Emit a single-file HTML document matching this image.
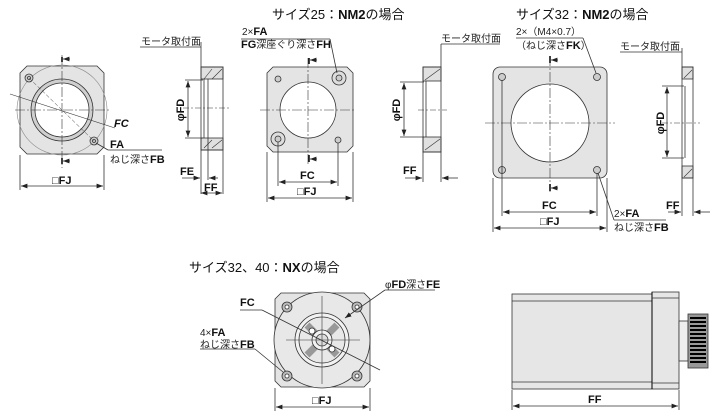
<!DOCTYPE html>
<html><head><meta charset="utf-8"><style>
html,body{margin:0;padding:0;background:#fff;}
svg{display:block;font-family:"Liberation Sans","Noto Sans CJK JP",sans-serif;}
.t{font-size:10px;fill:#222;}
.b{font-weight:bold;font-size:11px;fill:#111;}
.h{font-size:13px;fill:#111;}
</style></head><body>
<svg width="719" height="418" viewBox="0 0 719 418" xmlns="http://www.w3.org/2000/svg">
<defs>
<marker id="a" viewBox="0 0 8 6" refX="8" refY="3" markerWidth="8" markerHeight="6" orient="auto-start-reverse"><path d="M0,0L8,3L0,6z" fill="#222"/></marker>
</defs>
<g stroke="#333" stroke-width="0.8" fill="none">

<path d="M27,66 H97 L104,73 V147 L97,154 H27 L20,147 V73 Z" fill="#e4e4e4"/>
<circle cx="62" cy="110" r="45" stroke="#888" stroke-width="0.6"/>
<circle cx="62" cy="110" r="31" fill="#cfcfcf"/>
<circle cx="62" cy="110" r="27" fill="#fff"/>
<circle cx="29" cy="78" r="4" fill="#ccc"/><circle cx="29" cy="78" r="1.5"/>
<circle cx="94" cy="141" r="4" fill="#ccc"/><circle cx="94" cy="141" r="1.5"/>
<line x1="62" y1="55" x2="62" y2="168" stroke-dasharray="10,2,2,2" stroke-width="0.6"/>
<line x1="15" y1="110" x2="110" y2="110" stroke-dasharray="10,2,2,2" stroke-width="0.6"/>
<line x1="10" y1="94" x2="115" y2="128" stroke-width="0.6"/>
<line x1="29" y1="78" x2="94" y2="141" stroke-width="0.5" stroke-dasharray="4,2"/>
<line x1="62" y1="57" x2="62" y2="62" stroke="#000" stroke-width="1.5"/>
<line x1="70" y1="59" x2="63" y2="59" marker-end="url(#a)"/>
<line x1="62" y1="158" x2="62" y2="164" stroke="#000" stroke-width="1.5"/>
<line x1="70" y1="161" x2="63" y2="161" marker-end="url(#a)"/>
<line x1="96" y1="143" x2="108" y2="150"/><line x1="108" y1="150" x2="162" y2="150"/>
<line x1="20" y1="155" x2="20" y2="190"/><line x1="104" y1="155" x2="104" y2="190"/>
<line x1="21" y1="186" x2="103" y2="186" marker-start="url(#a)" marker-end="url(#a)"/>

<rect x="201" y="67" width="22" height="12" fill="#e0e0e0"/>
<rect x="201" y="138" width="22" height="12" fill="#e0e0e0"/>
<path d="M204,79 L212,69 M212,79 L222,69 M204,148 L212,140 M212,148 L222,140" stroke-width="0.6"/>
<rect x="201" y="67" width="22" height="83"/>
<line x1="208" y1="79" x2="208" y2="150"/><line x1="204" y1="79" x2="204" y2="138"/>
<line x1="183" y1="108" x2="230" y2="108" stroke-dasharray="6,2,2,2" stroke-width="0.5"/>
<line x1="185" y1="80" x2="203" y2="80"/><line x1="185" y1="138" x2="203" y2="138"/>
<line x1="188" y1="81" x2="188" y2="137" marker-start="url(#a)" marker-end="url(#a)"/>
<line x1="140" y1="47" x2="201" y2="47"/><line x1="201" y1="42" x2="201" y2="67"/>
<line x1="201" y1="150" x2="201" y2="194"/><line x1="208" y1="150" x2="208" y2="180"/><line x1="223" y1="150" x2="223" y2="194"/>
<line x1="182" y1="178" x2="200" y2="178" marker-end="url(#a)"/><line x1="218" y1="178" x2="209" y2="178" marker-end="url(#a)"/>
<line x1="201" y1="193" x2="222" y2="193" marker-start="url(#a)" marker-end="url(#a)"/>

<path d="M273,67 H347 L353,73 V146 L347,152 H273 L267,146 V73 Z" fill="#e4e4e4"/>
<circle cx="308" cy="110" r="28" fill="#fff"/>
<circle cx="278" cy="79" r="3" fill="#ccc"/><circle cx="338" cy="140" r="3" fill="#ccc"/>
<circle cx="339" cy="78" r="7" fill="#ddd"/><circle cx="339" cy="78" r="3" fill="#ccc"/>
<circle cx="278" cy="139" r="7" fill="#ddd"/><circle cx="278" cy="139" r="3" fill="#ccc"/>
<line x1="308" y1="58" x2="308" y2="165" stroke-dasharray="10,2,2,2" stroke-width="0.6"/>
<line x1="260" y1="110" x2="356" y2="110" stroke-dasharray="10,2,2,2" stroke-width="0.6"/>
<line x1="309" y1="58" x2="309" y2="64" stroke="#000" stroke-width="1.5"/>
<line x1="317" y1="60" x2="310" y2="60" marker-end="url(#a)"/>
<line x1="309" y1="155" x2="309" y2="162" stroke="#000" stroke-width="1.5"/>
<line x1="317" y1="159" x2="310" y2="159" marker-end="url(#a)"/>
<line x1="241" y1="39" x2="330" y2="39"/><line x1="330" y1="39" x2="337" y2="73"/>
<line x1="278" y1="142" x2="278" y2="186"/><line x1="338" y1="143" x2="338" y2="186"/>
<line x1="267" y1="152" x2="267" y2="202"/><line x1="353" y1="152" x2="353" y2="202"/>
<line x1="279" y1="182" x2="337" y2="182" marker-start="url(#a)" marker-end="url(#a)"/>
<line x1="268" y1="198" x2="352" y2="198" marker-start="url(#a)" marker-end="url(#a)"/>

<rect x="423" y="67" width="18" height="14" fill="#e0e0e0"/>
<rect x="423" y="137" width="18" height="15" fill="#e0e0e0"/>
<path d="M425,80 L440,69 M425,150 L440,139" stroke-width="0.6"/>
<rect x="423" y="67" width="18" height="85"/>
<line x1="426" y1="81" x2="426" y2="137"/>
<line x1="418" y1="110" x2="447" y2="110" stroke-dasharray="6,2,2,2" stroke-width="0.5"/>
<line x1="400" y1="82" x2="424" y2="82"/><line x1="400" y1="137" x2="424" y2="137"/>
<line x1="404" y1="83" x2="404" y2="136" marker-start="url(#a)" marker-end="url(#a)"/>
<line x1="441" y1="44" x2="441" y2="67"/><line x1="441" y1="44" x2="500" y2="44"/>
<line x1="423" y1="152" x2="423" y2="182"/><line x1="441" y1="152" x2="441" y2="182"/>
<line x1="405" y1="178" x2="422" y2="178" marker-end="url(#a)"/><line x1="458" y1="178" x2="442" y2="178" marker-end="url(#a)"/>

<rect x="493" y="67" width="114" height="111" rx="7" fill="#e4e4e4"/>
<circle cx="550" cy="123" r="39" fill="#fff"/>
<circle cx="502" cy="77" r="3.5" fill="#ccc"/><circle cx="597" cy="77" r="3.5" fill="#ccc"/>
<circle cx="502" cy="170" r="3.5" fill="#ccc"/><circle cx="597" cy="170" r="3.5" fill="#ccc"/>
<line x1="550" y1="56" x2="550" y2="192" stroke-dasharray="10,2,2,2" stroke-width="0.6"/>
<line x1="485" y1="123" x2="615" y2="123" stroke-dasharray="10,2,2,2" stroke-width="0.6"/>
<line x1="550" y1="56" x2="550" y2="63" stroke="#000" stroke-width="1.5"/>
<line x1="558" y1="60" x2="551" y2="60" marker-end="url(#a)"/>
<line x1="550" y1="184" x2="550" y2="191" stroke="#000" stroke-width="1.5"/>
<line x1="558" y1="188" x2="551" y2="188" marker-end="url(#a)"/>
<line x1="516" y1="38" x2="583" y2="38"/><line x1="583" y1="38" x2="596" y2="73"/>
<line x1="502" y1="80" x2="502" y2="216"/><line x1="597" y1="173" x2="597" y2="216"/>
<line x1="493" y1="178" x2="493" y2="232"/><line x1="607" y1="178" x2="607" y2="232"/>
<line x1="503" y1="212" x2="596" y2="212" marker-start="url(#a)" marker-end="url(#a)"/>
<line x1="494" y1="228" x2="606" y2="228" marker-start="url(#a)" marker-end="url(#a)"/>
<line x1="598" y1="173" x2="614" y2="220"/><line x1="614" y1="220" x2="666" y2="220"/>

<rect x="682" y="67" width="11" height="12" fill="#e0e0e0"/>
<rect x="682" y="166" width="11" height="12" fill="#e0e0e0"/>
<path d="M684,78 L692,70 M684,177 L692,169" stroke-width="0.6"/>
<rect x="682" y="67" width="11" height="111"/>
<line x1="685" y1="86" x2="685" y2="158"/>
<line x1="662" y1="123" x2="700" y2="123" stroke-dasharray="6,2,2,2" stroke-width="0.5"/>
<line x1="662" y1="86" x2="684" y2="86"/><line x1="662" y1="158" x2="684" y2="158"/>
<line x1="667" y1="87" x2="667" y2="157" marker-start="url(#a)" marker-end="url(#a)"/>
<line x1="620" y1="52" x2="682" y2="52"/><line x1="682" y1="48" x2="682" y2="67"/>
<line x1="682" y1="178" x2="682" y2="216"/><line x1="693" y1="178" x2="693" y2="216"/>
<line x1="668" y1="212" x2="681" y2="212" marker-end="url(#a)"/><line x1="710" y1="212" x2="694" y2="212" marker-end="url(#a)"/>

<path d="M281,293 H364 L370,299 V381 L364,387 H281 L275,381 V299 Z" fill="#e4e4e4"/>
<circle cx="322" cy="340" r="48" fill="#e8e8e8"/>
<circle cx="322" cy="340" r="27" fill="#f2f2f2"/>
<circle cx="322" cy="340" r="23" fill="#e8e8e8"/>
<path d="M307,325 L318,336 M337,325 L326,336 M307,355 L318,344 M337,355 L326,344" stroke="#999" stroke-width="7"/>
<circle cx="322" cy="340" r="10" fill="#f2f2f2"/>
<circle cx="322" cy="340" r="6" fill="#ddd"/>
<circle cx="312" cy="331" r="3" fill="#fff"/><circle cx="332" cy="349" r="3" fill="#fff"/>
<circle cx="287" cy="307" r="5" fill="#bbb"/><circle cx="287" cy="307" r="2" fill="#fff"/>
<circle cx="357" cy="307" r="5" fill="#bbb"/><circle cx="357" cy="307" r="2" fill="#fff"/>
<circle cx="287" cy="376" r="5" fill="#bbb"/><circle cx="287" cy="376" r="2" fill="#fff"/>
<circle cx="357" cy="376" r="5" fill="#bbb"/><circle cx="357" cy="376" r="2" fill="#fff"/>
<line x1="322" y1="296" x2="322" y2="384" stroke-width="0.6"/>
<line x1="286" y1="340" x2="360" y2="340" stroke-width="0.6"/>
<line x1="240" y1="310" x2="262" y2="310"/><line x1="262" y1="310" x2="380" y2="370"/>
<line x1="200" y1="349" x2="255" y2="349"/><line x1="255" y1="349" x2="283" y2="372"/>
<line x1="385" y1="290" x2="435" y2="290"/><line x1="385" y1="290" x2="345" y2="318" marker-end="url(#a)"/>
<line x1="275" y1="388" x2="275" y2="411"/><line x1="370" y1="388" x2="370" y2="411"/>
<line x1="276" y1="407" x2="369" y2="407" marker-start="url(#a)" marker-end="url(#a)"/>

<rect x="512" y="294" width="140" height="95" fill="#e6e6e6"/>
<line x1="512" y1="301" x2="652" y2="301"/><line x1="512" y1="382" x2="652" y2="382"/>
<rect x="652" y="292" width="27" height="97" fill="#e6e6e6"/>
<line x1="652" y1="292" x2="652" y2="389" stroke="#000" stroke-width="1"/>
<line x1="652" y1="298" x2="679" y2="298"/><line x1="652" y1="383" x2="679" y2="383"/>
<rect x="679" y="321" width="9" height="40" fill="#eee"/>
<rect x="688" y="314" width="20" height="54" fill="#999"/>
<path d="M690,318 H706 M690,322 H706 M690,326 H706 M690,330 H706 M690,334 H706 M690,338 H706 M690,342 H706 M690,346 H706 M690,350 H706 M690,354 H706 M690,358 H706 M690,362 H706" stroke="#000" stroke-width="2"/>
<line x1="512" y1="390" x2="512" y2="410"/><line x1="679" y1="390" x2="679" y2="410"/>
<line x1="513" y1="406" x2="678" y2="406" marker-start="url(#a)" marker-end="url(#a)"/>
</g>

<text x="272" y="19" class="h">サイズ25：<tspan font-weight="bold">NM2</tspan>の場合</text>
<text x="516" y="19" class="h">サイズ32：<tspan font-weight="bold">NM2</tspan>の場合</text>
<text x="189" y="272" class="h">サイズ32、40：<tspan font-weight="bold">NX</tspan>の場合</text>

<text x="141" y="45" class="t">モータ取付面</text>
<text x="441" y="42" class="t">モータ取付面</text>
<text x="620" y="50" class="t">モータ取付面</text>

<text x="114" y="127" class="b" font-style="italic">FC</text>
<text x="110" y="148" class="b">FA</text>
<text x="110" y="163" class="t">ねじ深さ<tspan class="b">FB</tspan></text>
<text x="52" y="184" class="b">□FJ</text>
<text x="180" y="175" class="b">FE</text>
<text x="204" y="191" class="b">FF</text>
<text x="184" y="110" class="b" transform="rotate(-90 184 110)" text-anchor="middle">φFD</text>

<text x="242" y="35" class="t">2×<tspan class="b">FA</tspan></text>
<text x="241" y="48" class="t"><tspan class="b">FG</tspan>深座ぐり深さ<tspan class="b">FH</tspan></text>
<text x="300" y="179" class="b">FC</text>
<text x="297" y="195" class="b">□FJ</text>
<text x="403" y="174" class="b">FF</text>
<text x="400" y="110" class="b" transform="rotate(-90 400 110)" text-anchor="middle">φFD</text>

<text x="516" y="35" class="t">2×（M4×0.7）</text>
<text x="516" y="49" class="t">（ねじ深さ<tspan class="b">FK</tspan>）</text>
<text x="542" y="209" class="b">FC</text>
<text x="540" y="225" class="b">□FJ</text>
<text x="614" y="217" class="t">2×<tspan class="b">FA</tspan></text>
<text x="614" y="231" class="t">ねじ深さ<tspan class="b">FB</tspan></text>
<text x="666" y="209" class="b">FF</text>
<text x="664" y="123" class="b" transform="rotate(-90 664 123)" text-anchor="middle">φFD</text>

<text x="240" y="306" class="b">FC</text>
<text x="200" y="336" class="t">4×<tspan class="b">FA</tspan></text>
<text x="200" y="348" class="t">ねじ深さ<tspan class="b">FB</tspan></text>
<text x="385" y="288" class="t">φ<tspan class="b">FD</tspan>深さ<tspan class="b">FE</tspan></text>
<text x="312" y="404" class="b">□FJ</text>
<text x="588" y="403" class="b">FF</text>
</svg>
</body></html>
